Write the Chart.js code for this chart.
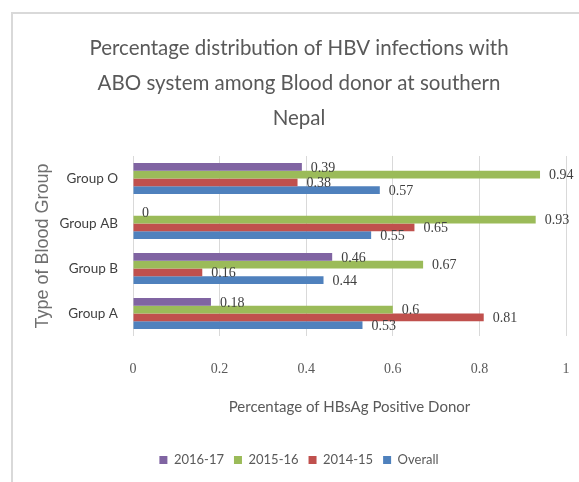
<!DOCTYPE html>
<html>
<head>
<meta charset="utf-8">
<script src="https://cdn.jsdelivr.net/npm/chart.js@4.4.0/dist/chart.umd.min.js"></script>
<style>
html, body { margin: 0; padding: 0; overflow: hidden; background: #fff; }
#frame { position: absolute; left: 11px; top: 12px; width: 620px; height: 500px;
         border-left: 2px solid #d9d9d9; border-top: 2px solid #d9d9d9; }
#myChart { position: absolute; left: 0; top: 0; }
</style>
</head>
<body>
<div id="frame"></div>
<canvas id="myChart" width="598" height="482"></canvas>
<script>
// categories top to bottom, series in the order they stack inside a group
var groups = ["Group O", "Group AB", "Group B", "Group A"];
var seriesNames = ["2016-17", "2015-16", "2014-15", "Overall"];
var val2016 = [0.39, 0, 0.46, 0.18];
var val2015 = [0.94, 0.93, 0.67, 0.6];
var val2014 = [0.38, 0.65, 0.16, 0.81];
var valOverall = [0.57, 0.55, 0.44, 0.53];
var xTicks = [0, 0.2, 0.4, 0.6, 0.8, 1];
var barColors = ["#8064A2", "#9BBB59", "#C0504D", "#4F81BD"];

var sans = "Lato, 'Liberation Sans', sans-serif";
var allValues = [val2016, val2015, val2014, valOverall];

var datasets = [];
for (let i = 0; i < seriesNames.length; i++) {
    datasets.push({
        label: seriesNames[i],
        data: allValues[i],
        backgroundColor: barColors[i],
        borderWidth: 0
    });
}

// value labels just right of each bar end
var barLabels = {
    id: "barLabels",
    afterDatasetsDraw(chart) {
        let ctx = chart.ctx;
        ctx.save();
        ctx.font = "14px 'Liberation Serif'";
        ctx.fillStyle = "#404040";
        ctx.textBaseline = "middle";
        ctx.textAlign = "left";
        chart.data.datasets.forEach(function (ds, i) {
            chart.getDatasetMeta(i).data.forEach(function (bar, j) {
                ctx.fillText(String(ds.data[j]), bar.x + 9, bar.y + 1);
            });
        });
        ctx.restore();
    }
};

// title and legend sit centred in the whole frame, not left of the right padding
var centerBoxes = {
    id: "centerBoxes",
    afterLayout(chart) {
        [chart.titleBlock, chart.legend].forEach(function (box) {
            box.left += 16;
            box.right += 16;
        });
    }
};

new Chart("myChart", {
    type: "bar",
    data: {
        labels: groups,
        datasets: datasets
    },
    plugins: [barLabels, centerBoxes],
    options: {
        indexAxis: "y",
        responsive: false,
        animation: false,
        categoryPercentage: 0.69,
        barPercentage: 1,
        layout: {
            padding: {left: 0, right: 32, top: 0, bottom: 5.5}
        },
        scales: {
            x: {
                min: 0,
                max: 1,
                afterBuildTicks: function (scale) {
                    scale.ticks = xTicks.map(v => ({value: v}));
                },
                afterFit: function (scale) {
                    scale.height = 107.5;
                },
                grid: {color: "#d9d9d9", drawTicks: false},
                border: {display: false},
                ticks: {
                    padding: 25,
                    color: "#595959",
                    font: {family: "'Liberation Serif'", size: 14},
                    callback: function (value) {
                        return String(value);
                    }
                },
                title: {
                    display: true,
                    text: "Percentage of HBsAg Positive Donor",
                    color: "#595959",
                    font: {family: sans, size: 15},
                    padding: {top: 20, bottom: 27.5}
                }
            },
            y: {
                afterFit: function (scale) {
                    scale.width = 133;
                },
                grid: {display: false, drawTicks: false},
                border: {display: false},
                ticks: {
                    padding: 15,
                    color: "#404040",
                    font: {family: sans, size: 13.5}
                },
                title: {
                    display: true,
                    text: "Type of Blood Group",
                    color: "#6f6f6f",
                    font: {family: "'Liberation Sans'", size: 18},
                    padding: {top: 32, bottom: 0}
                }
            }
        },
        plugins: {
            legend: {
                position: "bottom",
                labels: {
                    boxWidth: 8,
                    boxHeight: 8,
                    padding: 10,
                    color: "#595959",
                    font: {family: sans, size: 13}
                }
            },
            title: {
                display: true,
                text: ["Percentage distribution of HBV infections with",
                       "ABO system among Blood donor at southern",
                       "Nepal"],
                color: "#595959",
                font: {family: sans, size: 20.5, weight: "normal", lineHeight: 35 / 20.5},
                padding: {top: 30.5, bottom: 20.5}
            },
            tooltip: {enabled: false}
        }
    }
});
</script>
</body>
</html>
